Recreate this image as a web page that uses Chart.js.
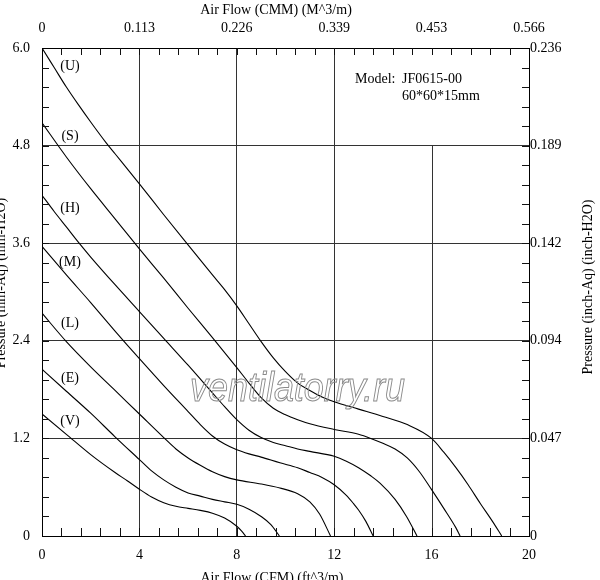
<!DOCTYPE html>
<html>
<head>
<meta charset="utf-8">
<script src="https://cdn.jsdelivr.net/npm/chart.js@4.4.1/dist/chart.umd.min.js"></script>
<style>
html,body{margin:0;padding:0;background:#fff;}
#wrap{width:600px;height:580px;position:relative;}
</style>
</head>
<body>
<div id="wrap"><canvas id="c" width="600" height="580"></canvas></div>
<script>
// ---- axis ticks / labels ----
const cfmTicks   = [0, 4, 8, 12, 16, 20];
const cmmLabels  = ['0', '0.113', '0.226', '0.339', '0.453', '0.566'];
const mmTicks    = [0, 1.2, 2.4, 3.6, 4.8, 6.0];
const mmLabels   = ['0', '1.2', '2.4', '3.6', '4.8', '6.0'];
const inchLabels = ['0', '0.047', '0.094', '0.142', '0.189', '0.236'];
const cfmMinorStep = 0.8;
const mmMinorStep  = 0.24;

// ---- series (Air flow CFM, Pressure mm-Aq) ----
const curveNames = ['(U)', '(S)', '(H)', '(M)', '(L)', '(E)', '(V)'];

const uFlow = [0,0.5,1,1.5,2,2.62,3,4,5,5.94,7,7.5,8,8.5,9,9.5,10,10.5,11,11.5,12,13,14,15,16,16.5,17,17.5,18,18.5,18.88];
const uPres = [6.0,5.76,5.52,5.3,5.09,4.84,4.7,4.33,3.95,3.6,3.21,3.03,2.83,2.61,2.39,2.19,2.02,1.88,1.79,1.71,1.65,1.56,1.47,1.37,1.2,1.03,0.84,0.63,0.40,0.18,0];

const sFlow = [0,1,2,3,4,5,6,7,8,8.5,9,9.5,10,10.5,11,12,13,13.5,14,14.5,15,15.5,16,16.5,17,17.17];
const sPres = [5.08,4.66,4.27,3.9,3.53,3.17,2.80,2.44,2.07,1.88,1.70,1.57,1.49,1.43,1.38,1.31,1.25,1.20,1.14,1.07,0.96,0.79,0.57,0.34,0.10,0];

const hFlow = [0,0.5,1,1.5,2,3,4,5,6,7,7.5,8,8.5,9,9.5,10,10.5,11,12,12.5,13,13.5,13.88,14.5,14.97,15.4];
const hPres = [4.19,3.99,3.8,3.61,3.43,3.09,2.76,2.43,2.10,1.76,1.59,1.43,1.30,1.21,1.15,1.11,1.07,1.04,0.98,0.92,0.84,0.74,0.65,0.45,0.24,0];

const mFlow = [0,1,2,3,4,5,6,6.5,7,7.5,8,8.5,9,9.77,10.5,11,11.5,12,12.5,12.79,13,13.3,13.6];
const mPres = [3.56,3.21,2.87,2.52,2.18,1.85,1.53,1.37,1.23,1.13,1.06,1.01,0.97,0.90,0.84,0.78,0.72,0.63,0.50,0.40,0.32,0.18,0];

const lFlow = [0,1,2,3,4,5,5.5,6,6.5,7,7.5,8,9,9.77,10.5,11,11.4,11.85];
const lPres = [2.74,2.39,2.08,1.79,1.50,1.21,1.07,0.96,0.87,0.79,0.73,0.69,0.64,0.59,0.52,0.42,0.27,0];

const eFlow = [0,1,2,3,4,4.5,5,5.5,6,6.5,7,7.5,8,8.5,9,9.4,9.75];
const ePres = [2.05,1.78,1.51,1.22,0.94,0.80,0.69,0.60,0.53,0.49,0.45,0.42,0.39,0.33,0.24,0.14,0];

const vFlow = [0,1,2,3,3.5,4,4.5,5,5.5,6,6.5,7,7.5,8,8.2,8.36];
const vPres = [1.50,1.25,1.0,0.78,0.68,0.575,0.48,0.41,0.365,0.34,0.315,0.28,0.22,0.12,0.06,0];

const seriesFlow = [uFlow, sFlow, hFlow, mFlow, lFlow, eFlow, vFlow];
const seriesPres = [uPres, sPres, hPres, mPres, lPres, ePres, vPres];

// ---- styling / layout ----
const FONT = '"Liberation Serif", "Times New Roman", serif';
const labelAnchor = { flow: 1.15, pres: [5.78, 4.92, 4.03, 3.37, 2.61, 1.94, 1.41] };

const datasets = seriesFlow.map((fx, i) => ({
  label: curveNames[i],
  data: fx.map((x, j) => ({ x: x, y: seriesPres[i][j] })),
  borderColor: '#000',
  borderWidth: 1.1,
  pointRadius: 0,
  fill: false,
  cubicInterpolationMode: 'monotone',
  xAxisID: 'x',
  yAxisID: 'y'
}));

const decorPlugin = {
  id: 'decor',
  beforeDatasetsDraw(chart) {
    const { ctx, scales } = chart;
    const xs = scales.x, ys = scales.y;
    ctx.save();
    ctx.strokeStyle = '#333';
    ctx.lineWidth = 1;
    const px = Math.round(xs.getPixelForValue(16)) + 0.5;
    ctx.beginPath();
    ctx.moveTo(px, ys.getPixelForValue(0));
    ctx.lineTo(px, ys.getPixelForValue(4.8));
    ctx.stroke();
    ctx.restore();
  },
  afterDraw(chart) {
    const { ctx, chartArea: a, scales } = chart;
    const xs = scales.x, ys = scales.y;
    ctx.save();
    // minor inward ticks
    ctx.strokeStyle = '#111';
    ctx.lineWidth = 1;
    ctx.beginPath();
    const nx = Math.round(20 / cfmMinorStep);
    for (let i = 1; i < nx; i++) {
      const x = Math.round(xs.getPixelForValue(i * cfmMinorStep)) + 0.5;
      ctx.moveTo(x, a.bottom); ctx.lineTo(x, a.bottom - 8);
      ctx.moveTo(x, a.top); ctx.lineTo(x, a.top + 7);
    }
    const ny = Math.round(6 / mmMinorStep);
    for (let i = 1; i < ny; i++) {
      const y = Math.round(ys.getPixelForValue(i * mmMinorStep)) + 0.5;
      ctx.moveTo(a.left, y); ctx.lineTo(a.left + 7, y);
      ctx.moveTo(a.right, y); ctx.lineTo(a.right - 7, y);
    }
    ctx.stroke();

    // curve labels
    ctx.fillStyle = '#000';
    ctx.font = '14px ' + FONT;
    ctx.textAlign = 'center';
    ctx.textBaseline = 'middle';
    curveNames.forEach((n, i) => {
      ctx.fillText(n, xs.getPixelForValue(labelAnchor.flow), ys.getPixelForValue(labelAnchor.pres[i]));
    });

    // model text
    ctx.textAlign = 'left';
    ctx.textBaseline = 'alphabetic';
    ctx.fillText('Model:', 355, 83);
    ctx.fillText('JF0615-00', 402, 83);
    ctx.fillText('60*60*15mm', 402, 100);

    // axis titles
    ctx.textAlign = 'center';
    ctx.textBaseline = 'middle';
    ctx.fillText('Air Flow (CMM) (M^3/m)', 276, 10);
    ctx.fillText('Air Flow (CFM) (ft^3/m)', 272, 578);
    ctx.save();
    ctx.translate(588, 287);
    ctx.rotate(-Math.PI / 2);
    ctx.fillText('Pressure (inch-Aq) (inch-H2O)', 0, 0);
    ctx.restore();
    ctx.save();
    ctx.translate(1, 283);
    ctx.rotate(-Math.PI / 2);
    ctx.fillText('Pressure (mm-Aq) (mm-H2O)', 0, 0);
    ctx.restore();

    // watermark
    ctx.save();
    ctx.font = 'italic 40px "Liberation Sans", Arial, sans-serif';
    const wm = 'ventilatorry.ru';
    const w = ctx.measureText(wm).width;
    ctx.translate(190, 401);
    ctx.scale(215 / w, 1);
    ctx.textAlign = 'left';
    ctx.textBaseline = 'alphabetic';
    ctx.strokeStyle = '#8a8a8a';
    ctx.lineWidth = 1;
    ctx.strokeText(wm, 0, 0);
    ctx.restore();

    ctx.restore();
  }
};

const tickFont = { family: FONT, size: 14 };

new Chart(document.getElementById('c'), {
  type: 'line',
  data: { datasets },
  options: {
    responsive: false,
    animation: false,
    devicePixelRatio: 1,
    layout: { padding: 0 },
    plugins: { legend: { display: false }, tooltip: { enabled: false } },
    scales: {
      x: {
        type: 'linear', position: 'bottom', min: 0, max: 20,
        afterBuildTicks: s => { s.ticks = cfmTicks.map(v => ({ value: v })); },
        afterFit: s => { s.height = 44; },
        ticks: { font: tickFont, color: '#000', padding: 11, maxRotation: 0,
                 callback: v => String(v) },
        grid: { color: ctx => (ctx.tick && ctx.tick.value === 16 ? 'rgba(0,0,0,0)' : '#333'),
                lineWidth: 1, drawTicks: false },
        border: { display: true, color: '#000', width: 1 }
      },
      x2: {
        type: 'linear', position: 'top', min: 0, max: 20,
        afterBuildTicks: s => { s.ticks = cfmTicks.map(v => ({ value: v })); },
        afterFit: s => { s.height = 48; },
        ticks: { font: tickFont, color: '#000', padding: 11, maxRotation: 0,
                 callback: (v, i) => cmmLabels[i] },
        grid: { display: true, drawOnChartArea: false, drawTicks: false },
        border: { display: true, color: '#000', width: 1 }
      },
      y: {
        type: 'linear', position: 'left', min: 0, max: 6,
        afterBuildTicks: s => { s.ticks = mmTicks.map(v => ({ value: v })); },
        afterFit: s => { s.width = 42; },
        ticks: { font: tickFont, color: '#000', padding: 12,
                 callback: (v, i) => mmLabels[i] },
        grid: { color: '#333', lineWidth: 1, drawTicks: false },
        border: { display: true, color: '#000', width: 1 }
      },
      y2: {
        type: 'linear', position: 'right', min: 0, max: 6,
        afterBuildTicks: s => { s.ticks = mmTicks.map(v => ({ value: v })); },
        afterFit: s => { s.width = 71; },
        ticks: { font: tickFont, color: '#000', padding: 1,
                 callback: (v, i) => inchLabels[i] },
        grid: { display: true, drawOnChartArea: false, drawTicks: false },
        border: { display: true, color: '#000', width: 1 }
      }
    }
  },
  plugins: [decorPlugin]
});
</script>
</body>
</html>
